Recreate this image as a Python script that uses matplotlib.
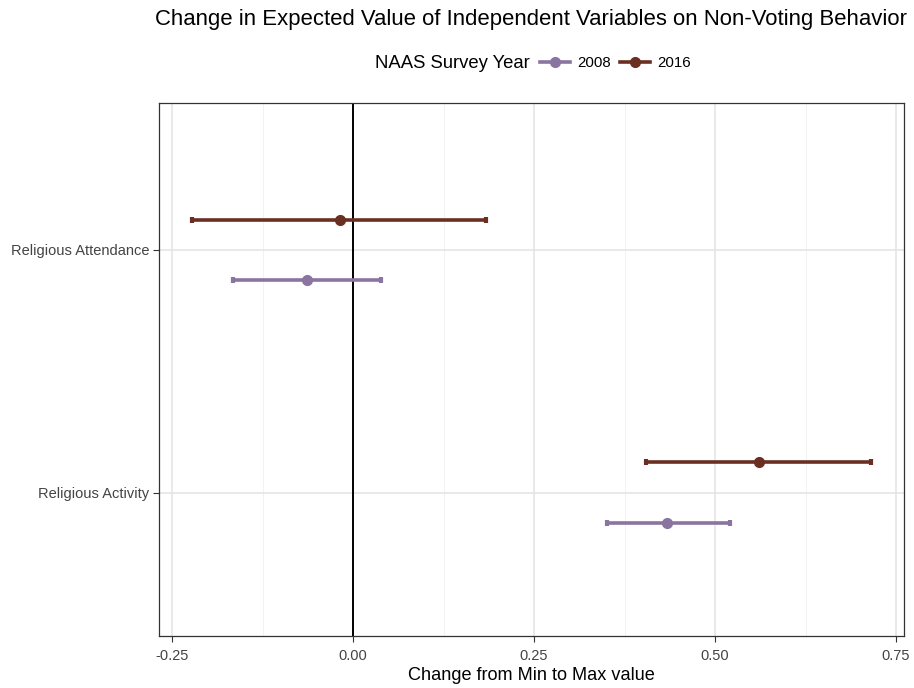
import matplotlib
matplotlib.use("Agg")
import matplotlib.pyplot as plt
from matplotlib.lines import Line2D

plt.rcParams['font.family'] = ['Liberation Sans', 'DejaVu Sans']

# data
variables = ['Religious Activity', 'Religious Attendance']
years = ['2008', '2016']
estimate = {'2008': [0.434, -0.064], '2016': [0.561, -0.018]}
lower = {'2008': [0.351, -0.166], '2016': [0.405, -0.222]}
upper = {'2008': [0.521, 0.039], '2016': [0.715, 0.184]}
colors = {'2008': '#8a74a0', '2016': '#6b2e22'}
offsets = {'2008': -0.125, '2016': 0.125}

fig = plt.figure(figsize=(9.14, 6.88), dpi=100)
ax = fig.add_axes([159 / 914, 1 - 636 / 688, (904 - 159) / 914, (636 - 103) / 688])

for yr in years:
    for i, v in enumerate(variables):
        y = i + 1 + offsets[yr]
        ax.plot([lower[yr][i], upper[yr][i]], [y, y], color=colors[yr], lw=2.6,
                solid_capstyle='butt', zorder=3)
        ax.plot([lower[yr][i], upper[yr][i]], [y, y], ls='none', marker='|',
                ms=5, mew=3, color=colors[yr], zorder=3)
        ax.plot(estimate[yr][i], y, 'o', ms=7, color=colors[yr], zorder=4)

ax.axvline(0, color='black', lw=1.4, zorder=2)

ax.set_xlim(-0.268, 0.761)
ax.set_ylim(0.41, 2.605)
ax.set_xticks([-0.25, 0, 0.25, 0.5, 0.75])
ax.set_xticklabels(['-0.25', '0.00', '0.25', '0.50', '0.75'])
ax.set_xticks([-0.125, 0.125, 0.375, 0.625], minor=True)
ax.set_yticks([1, 2])
ax.set_yticklabels(variables)
ax.grid(which='major', color='#e3e3e3', lw=1.1, zorder=0)
ax.grid(which='minor', axis='x', color='#f0f0f0', lw=0.6, zorder=0)
ax.tick_params(which='minor', length=0)
ax.tick_params(which='major', length=4, width=0.8, colors='#333333', labelsize=10.5,
               labelcolor='#444444', pad=3)
ax.tick_params(axis='x', pad=5)
ax.set_axisbelow(True)
for s in ax.spines.values():
    s.set_color('#333333')
    s.set_linewidth(0.9)

ax.set_xlabel('Change from Min to Max value', fontsize=13.1, labelpad=3)

fig.text(531 / 914, 1 - 19 / 688, 'Change in Expected Value of Independent Variables on Non-Voting Behavior',
         ha='center', va='center', fontsize=15.9)

# legend: title on the left, entries in one row
fig.text(530 / 914, 1 - 63 / 688, 'NAAS Survey Year', ha='right', va='center', fontsize=13.3)
handles = [Line2D([0], [0], color=colors[yr], lw=2.6, marker='o', ms=7) for yr in years]
fig.legend(handles, years, loc='center left', bbox_to_anchor=(540 / 914, 1 - 63 / 688),
           ncol=2, frameon=False, fontsize=10.8, handlelength=2.0, handletextpad=0.5,
           columnspacing=0.6, borderaxespad=0, borderpad=0)

fig.savefig('out.png', dpi=100)
